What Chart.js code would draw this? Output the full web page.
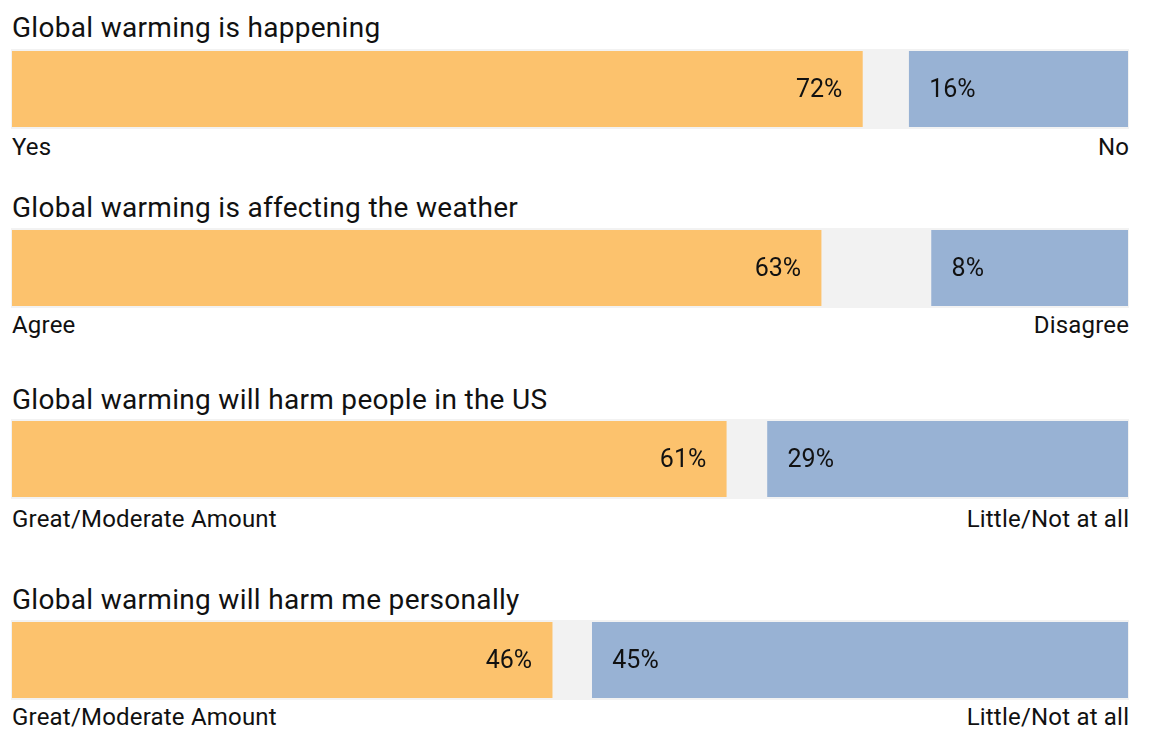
<!DOCTYPE html>
<html>
<head>
<meta charset="utf-8">
<script src="https://cdn.jsdelivr.net/npm/chart.js@4.4.0/dist/chart.umd.min.js"></script>
<style>
  html, body { margin: 0; padding: 0; background: #ffffff; }
  body { width: 1158px; height: 729px; position: relative; overflow: hidden; font-family: Roboto, "Noto Sans", sans-serif; color: #111; }
  .t { position: absolute; white-space: nowrap; line-height: 1; }
  .title { font-size: 28px; left: 12px; letter-spacing: 0.3px; }
  .sub { font-size: 24px; letter-spacing: 0.2px; }
  .left { left: 12px; }
  .right { right: 29px; text-align: right; margin-right: -0.2px; }
  canvas { position: absolute; }
</style>
</head>
<body>
<script>
// ---- data ----
const questions = [
  "Global warming is happening",
  "Global warming is affecting the weather",
  "Global warming will harm people in the US",
  "Global warming will harm me personally"
];
const agreeNames = ["Yes", "Agree", "Great/Moderate Amount", "Great/Moderate Amount"];
const disagreeNames = ["No", "Disagree", "Little/Not at all", "Little/Not at all"];
const agreeLabels = ["72%", "63%", "61%", "46%"];
const disagreeLabels = ["16%", "8%", "29%", "45%"];
// bar lengths as drawn (share of the full track width, %)
const agreeShare = [76.2, 72.5, 64.0, 48.4];
const disagreeShare = [19.6, 17.6, 32.3, 48.0];

// ---- layout ----
const barTops = [51, 230, 421, 622];
const barH = 76;
const titleBase = [38, 217.5, 409.5, 610];
const subBase = [155.5, 333.5, 527, 725.5];
const ORANGE = "#fcc26d";
const BLUE = "#98b2d4";
const TRACK = "#f2f2f2";
const ASC = 0.842;

function addText(txt, cls, base, fs) {
  const d = document.createElement("div");
  d.className = "t " + cls;
  d.textContent = txt;
  d.style.top = (base - ASC * fs) + "px";
  document.body.appendChild(d);
}

const trackPlugin = {
  id: "track",
  beforeDatasetsDraw(chart) {
    const a = chart.chartArea, c = chart.ctx;
    c.save();
    c.fillStyle = TRACK;
    c.fillRect(a.left - 1, a.top - 2, a.right - a.left + 2, a.bottom - a.top + 4);
    c.restore();
  }
};
const valuePlugin = {
  id: "values",
  afterDatasetsDraw(chart) {
    const c = chart.ctx;
    c.save();
    c.font = "25px Roboto, 'Noto Sans', sans-serif";
    c.fillStyle = "#111";
    c.textBaseline = "middle";
    const e0 = chart.getDatasetMeta(0).data[0];
    const e1 = chart.getDatasetMeta(1).data[0];
    c.textAlign = "right";
    c.fillText(chart.data.datasets[0].label, e0.x - 20, e0.y + 2);
    c.textAlign = "left";
    c.fillText(chart.data.datasets[1].label, e1.base + 20, e1.y + 2);
    c.restore();
  }
};

for (let i = 0; i < questions.length; i++) {
  addText(questions[i], "title", titleBase[i], 28);
  addText(agreeNames[i], "sub left", subBase[i], 24);
  addText(disagreeNames[i], "sub right", subBase[i], 24);

  const cv = document.createElement("canvas");
  cv.style.left = "9px";
  cv.style.top = (barTops[i] - 4) + "px";
  cv.width = 1122; cv.height = barH + 8;
  cv.style.width = "1122px"; cv.style.height = (barH + 8) + "px";
  document.body.appendChild(cv);

  new Chart(cv, {
    type: "bar",
    data: {
      labels: [questions[i]],
      datasets: [
        { label: agreeLabels[i], data: [[0, agreeShare[i]]], backgroundColor: ORANGE, grouped: false, barPercentage: 1, categoryPercentage: 1 },
        { label: disagreeLabels[i], data: [[100 - disagreeShare[i], 100]], backgroundColor: BLUE, grouped: false, barPercentage: 1, categoryPercentage: 1 }
      ]
    },
    options: {
      indexAxis: "y",
      responsive: false,
      animation: false,
      layout: { padding: { left: 3, right: 3, top: 4, bottom: 4 } },
      scales: {
        x: { display: false, min: 0, max: 100 },
        y: { display: false }
      },
      plugins: { legend: { display: false }, tooltip: { enabled: false }, title: { display: false } }
    },
    plugins: [trackPlugin, valuePlugin]
  });
}
</script>
</body>
</html>
